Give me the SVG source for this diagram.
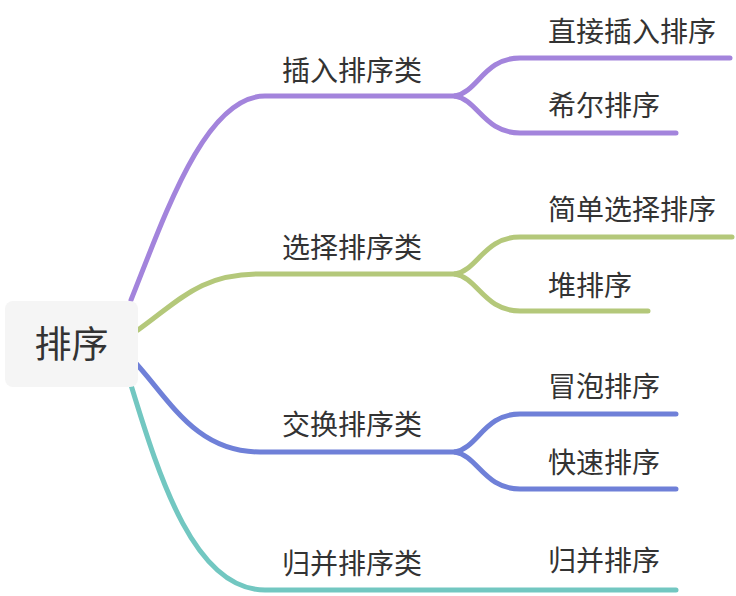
<svg xmlns="http://www.w3.org/2000/svg" width="736" height="596" viewBox="0 0 736 596">
<style>
.c{fill:none;stroke-width:5;stroke-linecap:round;stroke-linejoin:round}
.p{stroke:#a384dc}
.g{stroke:#b4c87a}
.b{stroke:#6f80d8}
.t{stroke:#72c7c1}
text{font-family:"Noto Sans CJK SC","Noto Sans",sans-serif;fill:#333333;font-size:28px}
</style>
<rect width="736" height="596" fill="#ffffff"/>
<g id="connectors">
<path class="c p" d="M131,300 C165,215 205,96 265,96 L455,96"/>
<path class="c p" d="M455,96 C478,92 484,58 520,58 L730,58"/>
<path class="c p" d="M455,96 C478,100 484,133 520,133 L676,133"/>
<path class="c g" d="M138,330 C180,300 200,274 260,274 L455,274"/>
<path class="c g" d="M455,274 C478,270 484,237 520,237 L732,237"/>
<path class="c g" d="M455,274 C478,278 484,311 520,311 L648,311"/>
<path class="c b" d="M133,360 C170,400 195,452 260,452 L455,452"/>
<path class="c b" d="M455,452 C478,448 484,414 520,414 L676,414"/>
<path class="c b" d="M455,452 C478,456 484,489 520,489 L676,489"/>
<path class="c t" d="M131,385 C160,480 195,590 265,590 L676,590"/>
</g>
<g id="root">
<rect x="5" y="301" width="133" height="86" rx="8" fill="#f5f5f5"/>
<text x="71.5" y="358" text-anchor="middle" style="font-size:37px">排序</text>
</g>
<g id="n-insert"><text x="282" y="81">插入排序类</text></g>
<g id="n-select"><text x="282" y="258">选择排序类</text></g>
<g id="n-swap"><text x="282" y="435">交换排序类</text></g>
<g id="n-merge"><text x="282" y="574">归并排序类</text></g>
<g id="n-direct"><text x="548" y="42">直接插入排序</text></g>
<g id="n-shell"><text x="548" y="116">希尔排序</text></g>
<g id="n-simple"><text x="548" y="220">简单选择排序</text></g>
<g id="n-heap"><text x="548" y="296">堆排序</text></g>
<g id="n-bubble"><text x="548" y="397">冒泡排序</text></g>
<g id="n-quick"><text x="548" y="473">快速排序</text></g>
<g id="n-mergesort"><text x="548" y="571">归并排序</text></g>
</svg>
